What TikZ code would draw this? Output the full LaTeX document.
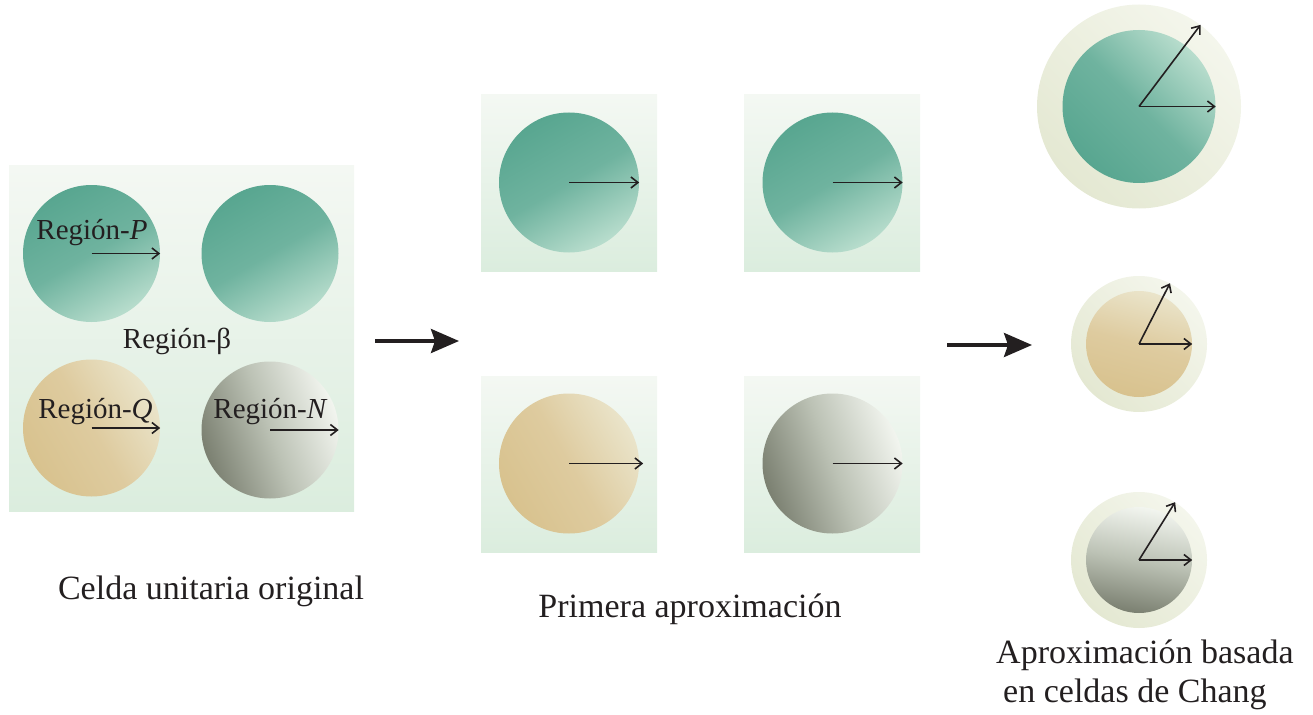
\documentclass[tikz,border=0pt]{standalone}
\usepackage{fontspec}
\setmainfont{Liberation Serif}
\usetikzlibrary{arrows.meta}
\definecolor{bgtop}{HTML}{F4F8F3}
\definecolor{bgbot}{HTML}{DBEDDE}
\definecolor{gdark}{HTML}{58A690}
\definecolor{gmid}{HTML}{6FB39F}
\definecolor{glight}{HTML}{B8DDCD}
\definecolor{tdark}{HTML}{D8C28E}
\definecolor{tmid}{HTML}{DECB9F}
\definecolor{tlight}{HTML}{EAE4CA}
\definecolor{ydark}{HTML}{7B8071}
\definecolor{ymid}{HTML}{BCC2B5}
\definecolor{ylight}{HTML}{F2F5EF}
\definecolor{rdark}{HTML}{E4E8D2}
\definecolor{rlight}{HTML}{F4F6EC}
\definecolor{ink}{HTML}{231F20}
\tikzset{
  cell/.style={rectangle, inner sep=0pt, shade, top color=bgtop, bottom color=bgbot},
  disc/.style={circle, inner sep=0pt, minimum size=#1},
  greenA/.style={shade, top color=gdark, bottom color=glight, middle color=gmid, shading angle=30},
  greenB/.style={shade, top color=glight, bottom color=gdark, middle color=gmid, shading angle=-45},
  tanA/.style={shade, top color=tlight, bottom color=tdark, middle color=tmid, shading angle=-60},
  tanB/.style={shade, top color=tlight, bottom color=tdark, middle color=tmid, shading angle=-15},
  grayA/.style={shade, top color=ylight, bottom color=ydark, middle color=ymid, shading angle=-70},
  grayB/.style={shade, top color=ylight, bottom color=ydark, middle color=ymid, shading angle=-10},
  ring/.style={shade, top color=rlight, bottom color=rdark, shading angle=-45},
  vec/.style={draw=ink, line width=1.6pt, -{Straight Barb[length=7pt,width=11pt]}},
  bigarrow/.style={draw=ink, line width=3.5pt, -{Stealth[length=28pt,width=24pt,inset=4pt]}},
  lab/.style={inner sep=0pt, anchor=base, text=ink, font=\fontsize{29}{33}\selectfont},
  captext/.style={inner sep=0pt, text=ink, font=\fontsize{34}{39}\selectfont}
}
\begin{document}
\begin{tikzpicture}[x=1pt,y=-1pt]
\useasboundingbox (0,0) rectangle (1313,714);
% left unit cell
\node[cell, minimum width=345pt, minimum height=345pt] (lc) at (181.5,338.5) {};
\node[disc=137pt, greenA] (p) at (91.5,253.5) {};
\node[disc=137pt, greenA] (b) at (270,253.5) {};
\node[disc=137pt, tanA] (q) at (91.5,428) {};
\node[disc=137pt, grayA] (n) at (270,430) {};
\draw[vec] (p.center) -- (p.east);
\draw[vec] (q.center) -- (q.east);
\draw[vec] (n.center) -- (n.east);
\node[lab] (lp) at (92,239) {Región-\textit{P}};
\node[lab] (lb) at (177,348) {Región-β};
\node[lab] (lq) at (95.5,418) {Región-\textit{Q}};
\node[lab] (ln) at (270.5,418) {Región-\textit{N}};
% first approximation
\node[cell, minimum width=176pt, minimum height=176pt] (m1) at (569,183) {};
\node[cell, minimum width=176pt, minimum height=176pt] (m2) at (832,183) {};
\node[cell, minimum width=176pt, minimum height=176pt] (m3) at (569,464) {};
\node[cell, minimum width=176pt, minimum height=176pt] (m4) at (832,464) {};
\node[disc=140pt, greenA] (c1) at (569,182.5) {};
\node[disc=140pt, greenA] (c2) at (832.5,182.5) {};
\node[disc=140pt, tanA] (c3) at (569,463.5) {};
\node[disc=140pt, grayA] (c4) at (832.5,463.5) {};
\draw[vec] (c1.center) -- (c1.east);
\draw[vec] (c2.center) -- (c2.east);
\draw[vec] (c3.center) -- ([xshift=4pt]c3.east);
\draw[vec] (c4.center) -- (c4.east);
% Chang cells
\node[disc=204pt, ring] (r1) at (1139,106.5) {};
\node[disc=153pt, greenB] (i1) at (1139,106.5) {};
\draw[vec] (i1.center) -- (i1.east);
\draw[vec] (i1.center) -- (r1.53);
\node[disc=136pt, ring] (r2) at (1139,344) {};
\node[disc=106pt, tanB] (i2) at (1139,344) {};
\draw[vec] (i2.center) -- (i2.east);
\draw[vec] (i2.center) -- (r2.63);
\node[disc=136pt, ring] (r3) at (1139,560) {};
\node[disc=106pt, grayB] (i3) at (1139,560) {};
\draw[vec] (i3.center) -- (i3.east);
\draw[vec] (i3.center) -- (r3.58);
% big arrows
\coordinate (a1s) at (375,341);
\coordinate (a1e) at (459,341);
\coordinate (a2s) at (947,345);
\coordinate (a2e) at (1032,345);
\draw[bigarrow] (a1s) -- (a1e);
\draw[bigarrow] (a2s) -- (a2e);
% captions
\node[captext, anchor=base] (t1) at (211,599) {Celda unitaria original};
\node[captext, anchor=base] (t2) at (690,617) {Primera aproximación};
\node[captext, anchor=base west] (t3) at (996,663) {Aproximación basada};
\node[captext, anchor=base west] (t4) at (1003,702) {en celdas de Chang};
\end{tikzpicture}
\end{document}
